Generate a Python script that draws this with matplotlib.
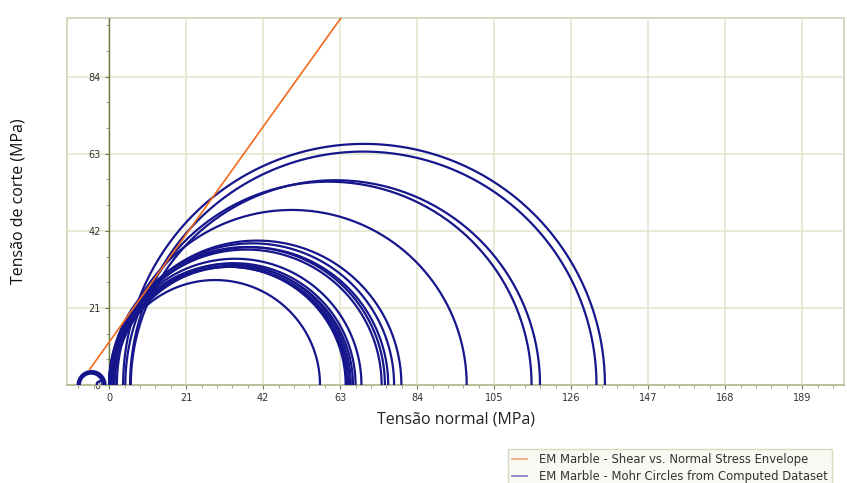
import numpy as np
import matplotlib
matplotlib.use("Agg")
import matplotlib.pyplot as plt
from matplotlib.lines import Line2D
from matplotlib.patches import Rectangle
from matplotlib.ticker import MultipleLocator

# Mohr circles: minor / major principal stress (MPa)
sigma3 = [0.3, 0.0, 0.5, 1.0, 0.0, 1.5, 0.8, 0.0, 0.5, 0.0, 1.0, 0.5, 1.0,
          2.1, 4.4, 5.9, 5.7, 3.8, -8.6, -8.3, -8.0, -3.4]
sigma1 = [57.5, 64.5, 64.9, 65.4, 65.9, 66.5, 67.2, 68.8, 74.3, 75.2, 76.1, 77.7, 79.7,
          97.5, 115.2, 117.5, 132.9, 135.2, -1.0, -1.4, -1.8, -1.2]

# shear vs normal stress envelope
env_sigma = [-5.3, 63.2]
env_tau = [4.3, 100.0]

x_ticks = [0, 21, 42, 63, 84, 105, 126, 147, 168, 189]
y_ticks = [0, 21, 42, 63, 84]

blue = "#16168c"
orange = "#f26a1e"
grid_c = "#e3e6cf"
frame_c = "#cdd2b4"

fig = plt.figure(figsize=(8.47, 4.83), dpi=100)
ax = fig.add_axes([67 / 847, 1 - 385 / 483, 777 / 847, 367 / 483])

theta = np.linspace(0, np.pi, 240)
for s3, s1 in zip(sigma3, sigma1):
    c, r = (s1 + s3) / 2, (s1 - s3) / 2
    ax.plot(c + r * np.cos(theta), r * np.sin(theta), color=blue, lw=1.6,
            solid_capstyle="butt", zorder=3)
ax.plot(env_sigma, env_tau, color=orange, lw=1.2, zorder=4)

ax.set_xlim(-11.5, 200.4)
ax.set_ylim(0, 100)
ax.set_xticks(x_ticks)
ax.set_yticks(y_ticks)
ax.xaxis.set_minor_locator(MultipleLocator(4.2))
ax.yaxis.set_minor_locator(MultipleLocator(7))
ax.grid(True, which="major", color=grid_c, lw=1.2, zorder=0)

# axis lines through the origin, light frame around the plot
ax.spines["left"].set_position(("data", 0))
ax.spines["left"].set_color("#6b7a4a")
ax.spines["left"].set_linewidth(1.0)
ax.spines["bottom"].set_color("#b4bc92")
ax.spines["bottom"].set_linewidth(1.2)
for s in ("top", "right"):
    ax.spines[s].set_visible(False)
ax.add_patch(Rectangle((0, 0), 1, 1, transform=ax.transAxes, fill=False,
                       edgecolor=frame_c, lw=1.2, zorder=1, clip_on=False))

ax.tick_params(which="major", length=3, width=0.8, color="#6b7a4a",
               labelsize=7, labelcolor="#333333", pad=3)
ax.tick_params(which="minor", length=2, width=0.6, color="#8a9868")

ax.set_xlabel("Tensão normal (MPa)", family="Open Sans", fontsize=11.5,
              color="#222222", labelpad=6)
ax.set_ylabel("Tensão de corte (MPa)", family="Open Sans", fontsize=11.5,
              color="#111111")
ax.yaxis.set_label_coords(-0.052, 0.5)

handles = [Line2D([], [], color="#f5a078", lw=1.2),
           Line2D([], [], color="#7b7bc6", lw=1.2)]
labels = ["EM Marble - Shear vs. Normal Stress Envelope",
          "EM Marble - Mohr Circles from Computed Dataset"]
leg = fig.legend(handles, labels, loc="upper left",
                 bbox_to_anchor=(508 / 847, 1 - 449 / 483),
                 fontsize=8.4, frameon=True, fancybox=False, handlelength=1.3,
                 handletextpad=1.0, borderpad=0.35, labelspacing=0.3,
                 borderaxespad=0)
leg.get_frame().set_edgecolor(frame_c)
leg.get_frame().set_facecolor("#f8f8f0")
leg.get_frame().set_linewidth(1.0)
for t in leg.get_texts():
    t.set_color("#333333")

fig.savefig("out.png", dpi=100)
